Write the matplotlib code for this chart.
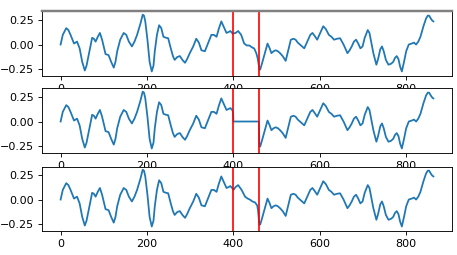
import numpy as np
import matplotlib.pyplot as plt

# signal knots (sample index, amplitude)
sample_idx = [0, 5, 13, 18, 23, 31, 38, 44, 50, 56, 60, 65, 73, 77, 81, 86, 91, 96,
              104, 111, 117, 123, 127, 131, 138, 146, 152, 158, 165, 171, 177, 185,
              190, 193, 196, 201, 206, 211, 215, 218, 223, 228, 233, 238, 244, 249,
              255, 260, 264, 270, 276, 282, 288, 293, 299, 307, 314, 320, 326, 334,
              341, 349, 355, 361, 366, 372, 378, 384, 389, 393, 399, 400, 405, 411,
              418, 425, 431, 437, 443, 448, 453, 456, 459, 460, 462, 466, 471, 479,
              484, 488, 493, 498, 503, 508, 514, 521, 527, 533, 539, 544, 549, 554,
              564, 572, 578, 583, 588, 594, 601, 608, 614, 621, 627, 633, 640, 647,
              655, 664, 669, 674, 679, 684, 689, 694, 699, 704, 711, 715, 718, 724,
              731, 735, 740, 744, 748, 753, 759, 765, 770, 774, 778, 782, 786, 790,
              795, 800, 806, 813, 818, 823, 828, 833, 840, 846, 850, 853, 857, 860, 863]
signal = [0.00, 0.10, 0.17, 0.15, 0.10, 0.01, 0.03, -0.04, -0.18, -0.27, -0.22, -0.11,
          0.07, 0.06, 0.03, 0.08, 0.12, 0.05, -0.10, -0.11, -0.18, -0.24, -0.18, -0.07,
          0.05, 0.12, 0.10, 0.03, -0.02, 0.03, 0.10, 0.22, 0.31, 0.30, 0.24, 0.05,
          -0.18, -0.28, -0.22, -0.07, 0.10, 0.20, 0.17, 0.08, 0.07, 0.065, -0.04, -0.12,
          -0.16, -0.13, -0.12, -0.16, -0.19, -0.15, -0.09, -0.02, 0.06, 0.02, -0.06,
          -0.07, 0.01, 0.10, 0.10, 0.08, 0.16, 0.24, 0.18, 0.12, 0.13, 0.14, 0.11,
          0.115, 0.12, 0.14, 0.10, 0.01, -0.01, -0.01, -0.03, -0.04, -0.09, -0.14,
          -0.22, -0.26, -0.26, -0.20, -0.12, 0.01, -0.04, -0.09, -0.07, -0.06, -0.07,
          -0.09, -0.12, -0.17, -0.06, 0.05, 0.06, 0.05, 0.02, 0.00, -0.04, 0.04, 0.10,
          0.12, 0.09, 0.05, 0.12, 0.19, 0.16, 0.10, 0.08, 0.05, 0.06, 0.065, 0.00,
          -0.09, -0.06, -0.02, 0.03, 0.05, 0.01, -0.04, -0.02, 0.07, 0.15, 0.12, 0.05,
          -0.09, -0.21, -0.15, -0.05, -0.02, -0.07, -0.16, -0.21, -0.20, -0.18, -0.14,
          -0.12, -0.15, -0.23, -0.28, -0.18, -0.07, 0.00, 0.01, 0.02, 0.00, 0.03, 0.08,
          0.19, 0.27, 0.30, 0.30, 0.27, 0.25, 0.24]

# reconstructed samples inside the gap
recon_idx = [400, 405, 411, 419, 427, 433, 438, 444, 450, 455, 457]
recon = [0.10, 0.13, 0.15, 0.10, 0.03, 0.01, 0.00, -0.02, -0.03, -0.06, -0.11]

gap_start, gap_end = 400, 460

x = np.array(sample_idx)
y = np.array(signal)
in_gap = (x >= gap_start) & (x < gap_end)

y_missing = np.where(in_gap, 0.0, y)

x_rec = np.concatenate([x[x < gap_start], recon_idx, x[x >= gap_end]])
y_rec = np.concatenate([y[x < gap_start], recon, y[x >= gap_end]])

fig = plt.figure(figsize=(457 / 80, 255 / 80), dpi=80)
rows = [(x, y), (x, y_missing), (x_rec, y_rec)]
bottoms = [0.702, 0.40, 0.094]
axes = []
for (xs, ys), b in zip(rows, bottoms):
    ax = fig.add_axes([0.092, b, 0.897, 0.253])
    ax.plot(xs, ys, color="#1f77b4", lw=1.6)
    ax.axvline(gap_start, color="red")
    ax.axvline(gap_end, color="red")
    ax.set_yticks([-0.25, 0.0, 0.25])
    ax.set_ylim(-0.327, 0.343)
    ax.set_xlim(-43, 906)
    axes.append(ax)

# the top edge of the first panel shows as a heavier grey band
axes[0].spines["top"].set_linewidth(2.2)
axes[0].spines["top"].set_color("#808080")

fig.savefig("out.png", dpi=80)
